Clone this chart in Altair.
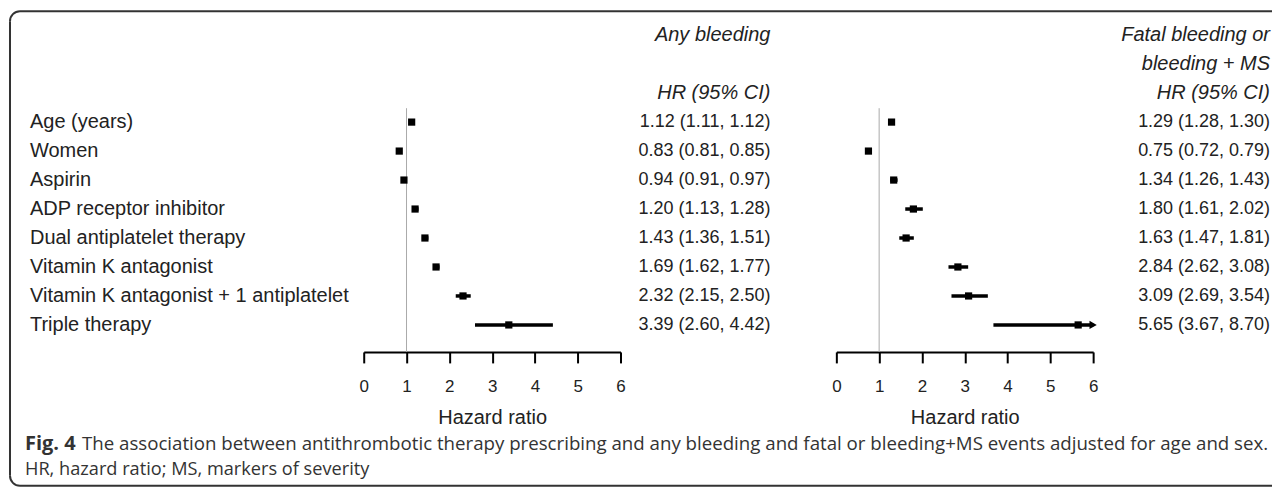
import math
import altair as alt
import pandas as pd

# ---------------- data ----------------
labels = ["Age (years)", "Women", "Aspirin", "ADP receptor inhibitor",
          "Dual antiplatelet therapy", "Vitamin K antagonist",
          "Vitamin K antagonist + 1 antiplatelet", "Triple therapy"]
rows = [0, 1, 2, 3, 4, 5, 6, 7]

hr_any = [1.12, 0.83, 0.94, 1.20, 1.43, 1.69, 2.32, 3.39]
lo_any = [1.11, 0.81, 0.91, 1.13, 1.36, 1.62, 2.15, 2.60]
hi_any = [1.12, 0.85, 0.97, 1.28, 1.51, 1.77, 2.50, 4.42]

hr_fat = [1.29, 0.75, 1.34, 1.80, 1.63, 2.84, 3.09, 5.65]
lo_fat = [1.28, 0.72, 1.26, 1.61, 1.47, 2.62, 2.69, 3.67]
hi_fat = [1.30, 0.79, 1.43, 2.02, 1.81, 3.08, 3.54, 8.70]

head_any = ["Any bleeding", "HR (95% CI)"]
head_any_rows = [-3, -1]
head_fat = ["Fatal bleeding or", "bleeding + MS", "HR (95% CI)"]
head_fat_rows = [-3, -2, -1]

x_ticks = [0, 1, 2, 3, 4, 5, 6]
x_max = 6
x_title = "Hazard ratio"
caption_bold = "Fig. 4"
caption_1 = ("The association between antithrombotic therapy prescribing and any bleeding "
             "and fatal or bleeding+MS events adjusted for age and sex.")
caption_2 = "HR, hazard ratio; MS, markers of severity"

# ---------------- tables ----------------
df_any = pd.DataFrame({"label": labels, "row": rows, "hr": hr_any, "lo": lo_any, "hi": hi_any})
df_fat = pd.DataFrame({"label": labels, "row": rows, "hr": hr_fat, "lo": lo_fat, "hi": hi_fat})
df_h_any = pd.DataFrame({"text": head_any, "row": head_any_rows})
df_h_fat = pd.DataFrame({"text": head_fat, "row": head_fat_rows})
df_ref = pd.DataFrame({"x": [1], "y": [-0.48], "y2": [7.931]})
one = pd.DataFrame({"a": [0]})

FONT = "Liberation Sans"
TXT = "#222222"
CAP = "#333333"
FRAME = "#333333"
H = 344

ys = alt.Scale(domain=[-3.931, 7.931], reverse=True, nice=False, zero=False)
xs = alt.Scale(domain=[0, x_max], nice=False, zero=False)
xaxis = alt.Axis(values=x_ticks, title=x_title, grid=False, domainColor="black",
                 domainWidth=2, tickColor="black", tickWidth=2, tickSize=11,
                 labelFont=FONT, labelFontSize=17, labelColor=TXT, labelPadding=16,
                 labelFlush=False, labelOverlap=False,
                 titleFont=FONT, titleFontSize=20, titleFontWeight="normal",
                 titleColor=TXT, titlePadding=13, format="d")

# ---------------- panel 1: labels + frame + caption ----------------
lab = alt.Chart(df_any).mark_text(align="left", baseline="middle", font=FONT,
                                  fontSize=20, color=TXT).encode(
    x=alt.value(22), y=alt.Y("row:Q", scale=ys, axis=None), text="label:N")

# frame (open on the right, like the cropped reference figure box)
X0, Y0, Y1, XR, R = 2, 3, 478, 1265, 10
top = alt.Chart(one).mark_rule(color=FRAME, strokeWidth=2).encode(
    x=alt.value(X0 + R), x2=alt.value(XR), y=alt.value(Y0))
bottom = alt.Chart(one).mark_rule(color=FRAME, strokeWidth=2).encode(
    x=alt.value(X0 + R), x2=alt.value(XR), y=alt.value(Y1))
left = alt.Chart(one).mark_rule(color=FRAME, strokeWidth=2).encode(
    x=alt.value(X0), y=alt.value(Y0 + R), y2=alt.value(Y1 - R))
arc_tl = alt.Chart(one).mark_arc(color=FRAME, radius=R + 1, radius2=R - 1,
                                 theta=1.5 * math.pi, theta2=2 * math.pi).encode(
    x=alt.value(X0 + R), y=alt.value(Y0 + R))
arc_bl = alt.Chart(one).mark_arc(color=FRAME, radius=R + 1, radius2=R - 1,
                                 theta=math.pi, theta2=1.5 * math.pi).encode(
    x=alt.value(X0 + R), y=alt.value(Y1 - R))

cap_b = alt.Chart(one).mark_text(align="left", baseline="middle", font="Open Sans",
                                 fontSize=20, fontWeight="bold", color=CAP).encode(
    x=alt.value(17), y=alt.value(436), text=alt.value(caption_bold))
cap_1 = alt.Chart(one).mark_text(align="left", baseline="middle", font="Open Sans",
                                 fontSize=18.7, color=CAP).encode(
    x=alt.value(74), y=alt.value(436), text=alt.value(caption_1))
cap_2 = alt.Chart(one).mark_text(align="left", baseline="middle", font="Open Sans",
                                 fontSize=18.2, color=CAP).encode(
    x=alt.value(17), y=alt.value(462), text=alt.value(caption_2))
p1 = alt.layer(top, bottom, left, arc_tl, arc_bl, lab, cap_b, cap_1, cap_2).properties(
    width=356, height=H)


# ---------------- forest panels ----------------
def forest(df):
    ref = alt.Chart(df_ref).mark_rule(color="#aaaaaa", strokeWidth=1).encode(
        x=alt.X("x:Q", scale=xs, axis=xaxis),
        y=alt.Y("y:Q", scale=ys, axis=None), y2="y2:Q")
    ci = alt.Chart(df).transform_calculate(
        hic=f"min(datum.hi, {x_max})").mark_rule(color="black", strokeWidth=3.5).encode(
        x=alt.X("lo:Q", scale=xs, axis=xaxis), x2="hic:Q",
        y=alt.Y("row:Q", scale=ys, axis=None))
    sq = alt.Chart(df).mark_square(size=52, color="black", opacity=1).encode(
        x=alt.X("hr:Q", scale=xs, axis=xaxis), y=alt.Y("row:Q", scale=ys, axis=None))
    arrow = alt.Chart(df).transform_filter(f"datum.hi > {x_max}").transform_calculate(
        cap=f"{x_max}").mark_point(shape="triangle-right", filled=True, size=70,
                                   color="black", opacity=1).encode(
        x=alt.X("cap:Q", scale=xs, axis=xaxis), y=alt.Y("row:Q", scale=ys, axis=None))
    return alt.layer(ref, ci, sq, arrow).properties(width=257, height=H)


def hr_text(df, heads, xr, w):
    t = alt.Chart(df).transform_calculate(
        txt="format(datum.hr, '.2f') + ' (' + format(datum.lo, '.2f') + ', ' + format(datum.hi, '.2f') + ')'"
    ).mark_text(align="right", baseline="middle", font=FONT, fontSize=18, color=TXT).encode(
        x=alt.value(xr), y=alt.Y("row:Q", scale=ys, axis=None), text="txt:N")
    h = alt.Chart(heads).mark_text(align="right", baseline="middle", font=FONT, fontSize=20,
                                   fontStyle="italic", color=TXT).encode(
        x=alt.value(xr), y=alt.Y("row:Q", scale=ys, axis=None), text="text:N")
    return alt.layer(t, h).properties(width=w, height=H)


p2 = forest(df_any)
p3 = hr_text(df_any, df_h_any, 150, 216)
p4 = forest(df_fat)
p5 = hr_text(df_fat, df_h_fat, 177, 179)

chart = alt.hconcat(p1, p2, p3, p4, p5, spacing=0, bounds="flush").properties(
    padding=0, background="white").configure_view(stroke=None)

chart.save("out.html", embed_options={"renderer": "svg", "actions": False})
